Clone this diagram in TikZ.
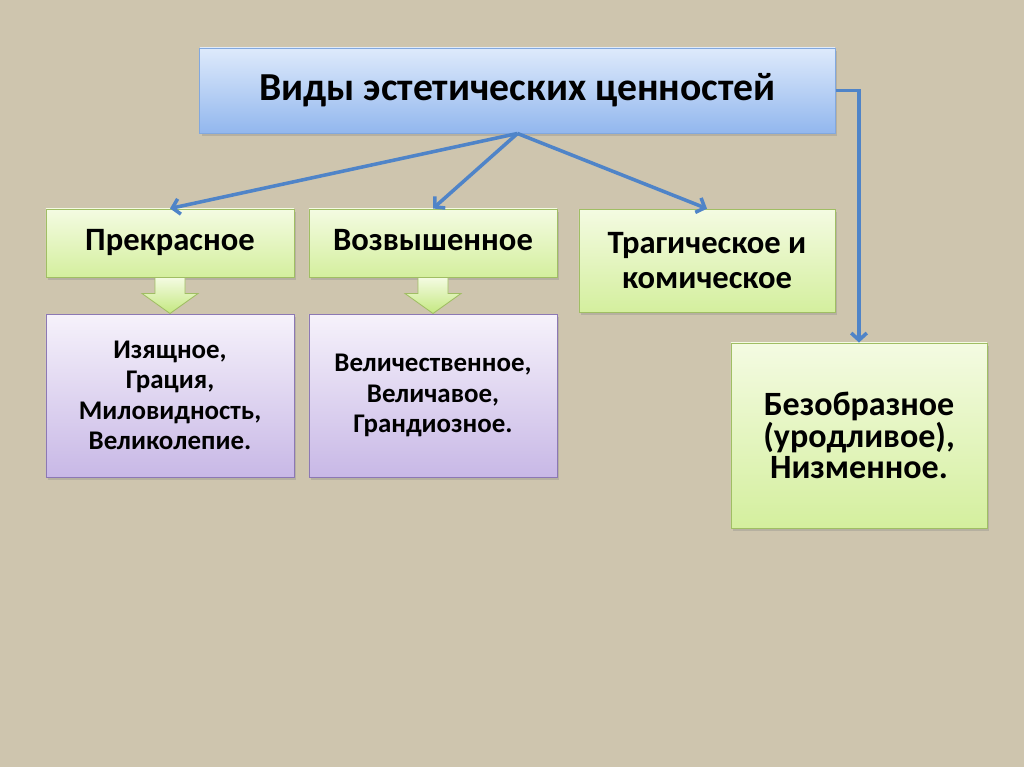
\documentclass[tikz,border=0pt]{standalone}
\usepackage{fontspec}
\setmainfont{Carlito}
\usetikzlibrary{arrows.meta,shadows}
\usepackage{xcolor}
\definecolor{paper}{RGB}{206,197,174}
\definecolor{linkblue}{RGB}{79,132,200}
\definecolor{headtop}{RGB}{222,234,251}
\definecolor{headbot}{RGB}{146,183,238}
\definecolor{headline}{RGB}{130,168,222}
\definecolor{greentop}{RGB}{244,251,226}
\definecolor{greenbot}{RGB}{212,239,158}
\definecolor{greenline}{RGB}{160,190,100}
\definecolor{arrowbot}{RGB}{196,232,128}
\definecolor{lilactop}{RGB}{246,242,251}
\definecolor{lilacbot}{RGB}{200,184,230}
\definecolor{lilacline}{RGB}{140,120,180}

\begin{document}
\begin{tikzpicture}[
            x=0.0248cm, y=-0.0248cm,
            card/.style={rectangle, draw, align=center, inner sep=4pt, line width=0.6pt, drop shadow={shadow xshift=1.5pt, shadow yshift=-2pt, opacity=0.3}},
            headbox/.style={card, draw=headline, top color=headtop, bottom color=headbot, minimum width=15.75cm, minimum height=2.11cm, font=\bfseries\fontsize{28}{32}\selectfont},
            kind/.style={card, draw=greenline, top color=greentop, bottom color=greenbot, minimum width=6.15cm, minimum height=1.69cm, font=\bfseries\fontsize{23}{25}\selectfont},
            detail/.style={card, draw=lilacline, top color=lilactop, bottom color=lilacbot, minimum width=6.15cm, minimum height=4.04cm, font=\bfseries\fontsize{19}{21.5}\selectfont},
            downarrow/.style={draw=greenline, line width=0.6pt, top color=greentop, bottom color=arrowbot},
            link/.style={-{Straight Barb[length=5pt, width=11pt]}, line width=2.5pt, draw=linkblue}
        ]
            % --- FUNDO ---
            \fill[paper] (0,0) rectangle (1024,767);

            % --- TOPO ---
            \node[headbox] (values) at (517.5,90.5) {Виды эстетических ценностей};

            % --- CATEGORIAS ---
            \node[kind] (beautiful) at (170,243) {\strut Прекрасное};
            \node[kind] (sublime) at (433,243) {\strut Возвышенное};
            \node[kind, minimum width=6.35cm, minimum height=2.55cm] (tragic) at (707,260.5) {Трагическое и\\комическое};

            % --- DETALHES ---
            \node[detail] (graceful) at (170,395.5) {Изящное,\\Грация,\\Миловидность,\\Великолепие.};
            \node[detail] (majestic) at (433,395.5) {Величественное,\\Величавое,\\Грандиозное.};
            \node[kind, minimum width=6.35cm, minimum height=4.59cm, font=\bfseries\fontsize{24}{22}\selectfont] (ugly) at (859,435.5) {Безобразное\\(уродливое),\\Низменное.};

            % --- SETAS VERDES ---
            \draw[downarrow, shift={(beautiful.south)}] (-15,0) -- (15,0) -- (15,16) -- (28,16) -- (0,36) -- (-28,16) -- (-15,16) -- cycle;
            \draw[downarrow, shift={(sublime.south)}] (-15,0) -- (15,0) -- (15,16) -- (28,16) -- (0,36) -- (-28,16) -- (-15,16) -- cycle;

            % --- LIGAÇÕES ---
            \draw[link] (values.south) -- (beautiful.north);
            \draw[link] (values.south) -- (sublime.north);
            \draw[link] (values.south) -- (tragic.north);
            \draw[link] (values.east) -| (ugly.north);

        \end{tikzpicture}
\end{document}
